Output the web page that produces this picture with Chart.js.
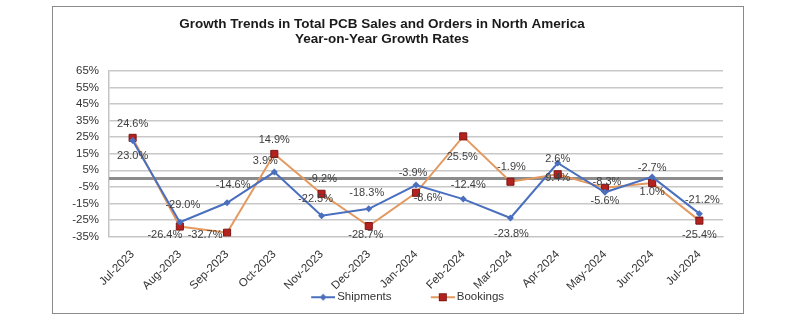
<!DOCTYPE html>
<html>
<head>
<meta charset="utf-8">
<script src="https://cdn.jsdelivr.net/npm/chart.js@4/dist/chart.umd.min.js"></script>
<style>
  body { margin: 0; background: #fff; }
  #box { position: absolute; left: 52px; top: 6px; width: 690px; height: 306px; border: 1px solid #8a8a8a; }
</style>
</head>
<body>
<div id="box"><canvas id="growthChart" width="690" height="306"></canvas></div>
<script>
const months = ['Jul-2023', 'Aug-2023', 'Sep-2023', 'Oct-2023', 'Nov-2023', 'Dec-2023', 'Jan-2024',
                'Feb-2024', 'Mar-2024', 'Apr-2024', 'May-2024', 'Jun-2024', 'Jul-2024'];
const shipments = [23.0, -26.4, -14.6, 3.9, -22.5, -18.3, -3.9, -12.4, -23.8, 9.4, -8.3, 1.0, -21.2];
const bookings = [24.6, -29.0, -32.7, 14.9, -9.2, -28.7, -8.6, 25.5, -1.9, 2.6, -5.6, -2.7, -25.4];
const yTicks = [-35, -25, -15, -5, 5, 15, 25, 35, 45, 55, 65];
const titleLines = ['Growth Trends in Total PCB Sales and Orders in North America', 'Year-on-Year Growth Rates'];

// where each value label sits relative to its point (dx, dy)
const shipLabelPos = [[0, 15], [-15, 13], [6, -18], [-9, -11], [-6, -17], [-2, -16], [-3, -12],
                      [5, -14], [1, 16], [0, 15], [2, -10], [0, 15], [3, -14]];
const bookLabelPos = [[0, -14], [3, -22], [-22, 2], [0, -14], [1, -15], [-3, 9], [12, 5],
                      [-1, 21], [1, -15], [0, -15], [0, 13], [0, -15], [0, 14]];

const FONT = '"Liberation Sans", Arial, sans-serif';
const BLUE = '#4a6fbe';
const ORANGE = '#e3995f';
const RED = '#b3221f';

// legend icon: line with marker, drawn on a small canvas (left part left blank as spacing)
function legendIcon(lineColor, marker) {
    const c = document.createElement('canvas');
    c.width = 67; c.height = 12;
    const g = c.getContext('2d');
    g.strokeStyle = lineColor;
    g.lineWidth = 2;
    g.beginPath(); g.moveTo(43, 6); g.lineTo(67, 6); g.stroke();
    if (marker === 'diamond') {
        g.fillStyle = BLUE;
        g.beginPath(); g.moveTo(55, 2.5); g.lineTo(58.5, 6); g.lineTo(55, 9.5); g.lineTo(51.5, 6); g.closePath(); g.fill();
    } else {
        g.fillStyle = RED;
        g.strokeStyle = '#7d1614';
        g.lineWidth = 1;
        g.fillRect(51.5, 2.5, 7, 7);
        g.strokeRect(51.5, 2.5, 7, 7);
    }
    return c;
}

const zeroLine = {
    id: 'zeroLine',
    beforeDatasetsDraw(chart) {
        const { ctx, chartArea, scales } = chart;
        const y = scales.y.getPixelForValue(0);
        ctx.save();
        ctx.strokeStyle = '#8c8c8c';
        ctx.lineWidth = 3;
        ctx.beginPath();
        ctx.moveTo(chartArea.left, y);
        ctx.lineTo(chartArea.right, y);
        ctx.stroke();
        ctx.restore();
    }
};

const valueLabels = {
    id: 'valueLabels',
    afterDatasetsDraw(chart) {
        const ctx = chart.ctx;
        const offsets = [shipLabelPos, bookLabelPos];
        ctx.save();
        ctx.font = '11px ' + FONT;
        ctx.fillStyle = '#404040';
        ctx.textAlign = 'center';
        ctx.textBaseline = 'middle';
        chart.data.datasets.forEach((ds, d) => {
            chart.getDatasetMeta(d).data.forEach((pt, i) => {
                const off = offsets[d][i];
                ctx.fillText(ds.data[i].toFixed(1) + '%', pt.x + off[0], pt.y + off[1]);
            });
        });
        ctx.restore();
    }
};

const titleText = {
    id: 'titleText',
    afterDraw(chart) {
        const ctx = chart.ctx;
        ctx.save();
        ctx.font = 'bold 13.5px ' + FONT;
        ctx.fillStyle = '#1a1a1a';
        ctx.textAlign = 'center';
        ctx.textBaseline = 'middle';
        titleLines.forEach((t, i) => ctx.fillText(t, 329, 17 + i * 15.5));
        ctx.restore();
    }
};

const ctx = document.getElementById('growthChart').getContext('2d');
const chart = new Chart(ctx, {
    type: 'line',
    data: {
        labels: months,
        datasets: [{
            label: 'Shipments',
            data: shipments,
            borderColor: BLUE,
            backgroundColor: BLUE,
            borderWidth: 2,
            pointStyle: 'rectRot',
            pointRadius: 3.5,
            pointBorderWidth: 0,
            tension: 0
        }, {
            label: 'Bookings',
            data: bookings,
            borderColor: ORANGE,
            backgroundColor: RED,
            borderWidth: 2,
            pointStyle: 'rect',
            pointRadius: 5,
            pointBorderColor: '#7d1614',
            pointBorderWidth: 1,
            tension: 0
        }]
    },
    options: {
        responsive: false,
        animation: false,
        devicePixelRatio: 1,
        layout: { padding: { top: 64, right: 20, left: 0, bottom: 0 } },
        plugins: {
            title: { display: false },
            tooltip: { enabled: false },
            legend: {
                display: true,
                position: 'bottom',
                labels: {
                    usePointStyle: true,
                    pointStyleWidth: 59.5,
                    padding: 0,
                    color: '#333',
                    font: { family: FONT, size: 11.5 },
                    generateLabels(ch) {
                        return ch.data.datasets.map((ds, i) => ({
                            text: ds.label,
                            pointStyle: legendIcon(ds.borderColor, i === 0 ? 'diamond' : 'square'),
                            fillStyle: 'transparent',
                            strokeStyle: 'transparent',
                            lineWidth: 0,
                            fontColor: '#333',
                            datasetIndex: i
                        }));
                    }
                }
            }
        },
        scales: {
            x: {
                offset: true,
                grid: { display: false },
                border: { display: true, color: '#c4c4c4' },
                ticks: {
                    autoSkip: false,
                    minRotation: 45,
                    maxRotation: 45,
                    padding: 3,
                    color: '#333',
                    font: { family: FONT, size: 11.5 }
                },
                afterFit(scale) { scale.height = 55; }
            },
            y: {
                min: -35,
                max: 65,
                afterBuildTicks(scale) { scale.ticks = yTicks.map(v => ({ value: v })); },
                grid: { color: '#c8c8c8', lineWidth: 1.5, drawTicks: false },
                border: { display: true, color: '#c4c4c4', width: 1.5 },
                ticks: {
                    autoSkip: false,
                    padding: 10,
                    color: '#333',
                    font: { family: FONT, size: 11.5 },
                    callback: v => v + '%'
                },
                afterFit(scale) { scale.width = 56; }
            }
        }
    },
    plugins: [zeroLine, valueLabels, titleText]
});
</script>
</body>
</html>
